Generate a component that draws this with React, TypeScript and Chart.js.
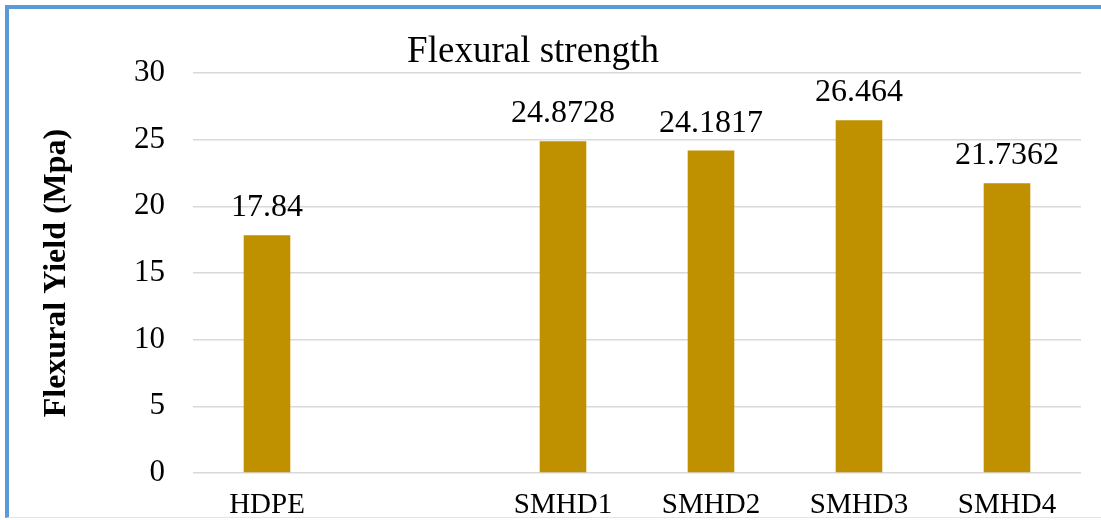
import React, { useEffect, useRef } from "react";
import { Chart, registerables } from "chart.js";

Chart.register(...registerables);

// Sample names along the x axis (the blank slot keeps the gap after HDPE)
const categories = ["HDPE", "", "SMHD1", "SMHD2", "SMHD3", "SMHD4"];
// Flexural yield in MPa for each sample
const flexuralYield: (number | null)[] = [17.84, null, 24.8728, 24.1817, 26.464, 21.7362];
// Value axis range and step
const yMin = 0;
const yMax = 30;
const yStep = 5;

const chartTitle = "Flexural strength";
const yAxisTitle = "Flexural Yield (Mpa)";

const SERIF = '"Liberation Serif", "Times New Roman", serif';
const BAR_COLOR = "#BF9000";
const GRID_COLOR = "#D9D9D9";

// Writes each bar's value just above it
const valueLabels = {
  id: "valueLabels",
  afterDatasetsDraw(chart: any) {
    const { ctx } = chart;
    const meta = chart.getDatasetMeta(0);
    const data = chart.data.datasets[0].data;
    ctx.save();
    ctx.font = `32px ${SERIF}`;
    ctx.fillStyle = "#000000";
    ctx.textAlign = "center";
    ctx.textBaseline = "alphabetic";
    meta.data.forEach((bar: any, i: number) => {
      const v = data[i];
      if (v === null || v === undefined) return;
      ctx.fillText(String(v), bar.x, bar.y - 19);
    });
    ctx.restore();
  },
};

// Chart heading drawn above the plot
const headingText = {
  id: "headingText",
  afterDraw(chart: any) {
    const { ctx } = chart;
    ctx.save();
    ctx.font = `37px ${SERIF}`;
    ctx.fillStyle = "#000000";
    ctx.textAlign = "center";
    ctx.textBaseline = "alphabetic";
    ctx.fillText(chartTitle, 533, 62);
    ctx.restore();
  },
};

export default function App() {
  const canvasRef = useRef<HTMLCanvasElement | null>(null);

  useEffect(() => {
    if (!canvasRef.current) return;
    const chart = new Chart(canvasRef.current, {
      type: "bar",
      data: {
        labels: categories,
        datasets: [
          {
            data: flexuralYield,
            backgroundColor: BAR_COLOR,
            borderWidth: 0,
            barPercentage: 0.315,
            categoryPercentage: 1,
          },
        ],
      },
      plugins: [valueLabels, headingText],
      options: {
        responsive: false,
        animation: false,
        layout: { padding: { top: 73, right: 20, bottom: 0, left: 0 } },
        plugins: {
          legend: { display: false },
          title: { display: false },
          tooltip: { enabled: false },
        },
        scales: {
          x: {
            grid: { display: false, drawTicks: false },
            border: { display: false },
            ticks: {
              color: "#000000",
              font: { family: SERIF, size: 29 },
              padding: 15,
              maxRotation: 0,
              autoSkip: false,
            },
            afterFit: (scale: any) => {
              scale.height = 47;
            },
          },
          y: {
            min: yMin,
            max: yMax,
            grid: { color: GRID_COLOR, lineWidth: 1.5, drawTicks: false },
            border: { display: false },
            ticks: {
              stepSize: yStep,
              color: "#000000",
              font: { family: SERIF, size: 31 },
              padding: 28,
            },
            title: {
              display: true,
              text: yAxisTitle,
              color: "#000000",
              font: { family: SERIF, size: 32, weight: "bold" },
              padding: { top: 38, bottom: 0 },
            },
            afterFit: (scale: any) => {
              scale.width = 193;
            },
          },
        },
      },
    });
    return () => chart.destroy();
  }, []);

  return (
    <div
      style={{
        position: "fixed",
        left: 0,
        top: 0,
        width: 1101,
        height: 520,
        background: "#ffffff",
        overflow: "hidden",
      }}
    >
      <canvas ref={canvasRef} width={1101} height={520} style={{ display: "block" }} />
      <div
        style={{
          position: "absolute",
          left: 5,
          top: 5,
          right: -10,
          bottom: 2,
          borderLeft: "4px solid #5B9BD5",
          borderTop: "4px solid #5B9BD5",
          borderBottom: "1px solid #E4E4E4",
          pointerEvents: "none",
        }}
      />
    </div>
  );
}
